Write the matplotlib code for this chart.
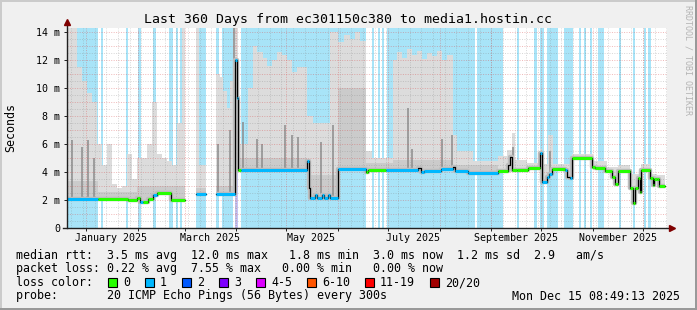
import numpy as np
import matplotlib
matplotlib.use("Agg")
import matplotlib.pyplot as plt
from matplotlib.patches import Rectangle
from datetime import datetime, timedelta

W, H = 697, 310
nan = np.nan
start = datetime(2024, 12, 20, 8, 49, 13)
span = 360.0
mono = "DejaVu Sans Mono"

# median rtt, step data: segment start (days since start), value (ms), loss class
med_day = [0, 18.6, 36.6, 42, 43.8, 45.6, 48.6, 51.6, 54, 62.4, 70.8, 77.4, 83.4, 89.4,
           100.8, 101.8, 102.6, 104.4, 144, 144.9, 145.8, 148.8, 150, 153, 154.2, 156.6,
           157.8, 162.3, 179.4, 180.6, 191.4, 210.6, 212.4, 214.2, 224.4, 231.6, 232.8,
           240.6, 258.6, 264.6, 265.8, 267, 270, 276.6, 283.8, 285, 288, 289.2, 291,
           298.8, 300, 301.8, 303.2, 315, 316.8, 322.8, 327, 328.8, 330.6, 337.8, 339.6,
           340.8, 342.6, 343.8, 344.4, 349.8, 351.6, 352.2, 354, 355.2, 358.8]
med_ms = [2.08, 2.1, 2.05, 2.2, 1.9, 1.85, 2.1, 2.4, 2.5, 2.05, nan, 2.45, nan, 2.45,
          12.0, 9.3, 4.16, 4.16, 4.8, 2.9, 2.15, 2.4, 2.15, 2.4, 2.15, 2.4,
          2.15, 4.22, 4.0, 4.15, 4.15, 4.3, 4.0, 4.1, 4.25, 4.35, 4.1,
          3.97, 4.1, 4.5, 5.1, 4.2, 4.15, 4.3, 5.4, 3.3, 3.7, 3.9, 4.25,
          4.2, 3.7, 3.57, 5.0, 4.4, 4.3, 4.1, 3.7, 3.14, 4.1, 2.86, 1.8,
          2.86, 3.57, 2.6, 4.2, 3.6, 3.1, 3.5, 3.55, 3.0, nan]
med_loss = [1, 0, 0, 0, 1, 0, 0, 1, 0, 0, -1, 1, -1, 1,
            1, 1, 0, 1, 1, -1, 1, 1, 1, 1, 1, 1,
            1, 1, 0, 0, 1, -1, 1, 1, 1, -1, 1,
            1, 0, -1, -1, 0, 0, 0, 1, 1, 1, 1, 0,
            1, -1, 1, 0, 0, 0, 0, 0, 0, 0, 0, 0,
            0, 0, 0, 0, 0, 0, 0, 0, 0, -1]

# smoke: outer (light) envelope top
light_day = [0, 6, 9, 12, 15, 18, 21, 24, 27, 30, 33, 36, 39, 42, 48, 51, 54, 57, 60, 63,
             66, 69, 70.8, 77.4, 79.2, 83.4, 89.4, 91.8, 93.6, 96, 97.8, 99.6, 102.6, 108.6,
             111.6, 114, 117.6, 120, 123, 126, 129, 132, 135, 138, 144, 147.6, 157.8,
             162.6, 166, 169.8, 173, 176, 179.4, 183, 195.6, 198, 201, 204, 207, 210, 213,
             216, 219, 222, 225, 228, 231.6,
             234, 243.6, 258.6, 264, 267, 268.8, 276, 283.8, 285, 288.6, 291.6, 303.0,
             315.6, 324, 330.6, 337.8, 344.4, 349.8, 354, 358.8]
light_top = [14.3, 11.5, 10.5, 9.7, 9.0, 6.0, 4.5, 6.0, 3.2, 2.9, 3.0, 5.3, 3.5, 5.0, 6.0,
             9.0, 5.3, 5.0, 4.8, 4.5, 7.5, 14.3, nan, 14.3, 4.5, nan, 11.0, 10.8, 9.8, 8.6,
             10.5, 14.3, 6.0, 10.0,
             13.0, 12.6, 12.2, 11.6, 12.0, 12.6, 12.4, 12.0, 11.2, 11.5, 8.0, 7.5, 14.0,
             13.3, 13.8, 13.5, 14.0, 13.4, 5.5, 5.0, 12.0, 12.6, 12.2, 12.8, 12.4, 12.7, 12.1,
             12.5, 12.3, 12.7, 12.0, 12.4, 6.7,
             5.5, 4.8, 5.2, 5.6, 6.8, 4.9, 4.7, 5.7, 4.6, 6.7, 4.6, 5.3, 4.8,
             4.4, 4.5, 3.9, 4.6, 3.9, 3.8, nan]

# smoke: inner (darker) envelope top
mid_day = [0, 18.6, 42, 70.8, 77.4, 83.4, 89.4, 99.6, 102.6, 144, 162.3, 179.4, 195.6,
           231.6, 258.6]
mid_top = [3.4, 2.6, 3.0, nan, 2.9, nan, 3.0, nan, 5.0, 3.8, 10.0, 4.7, 4.9, 4.5, nan]

# single dark smoke spikes
spike_day = [3, 9, 12.6, 16.2, 90.6, 97.8, 100.2, 105.6, 114, 117, 130.8, 135, 138.6,
             152.4, 159.6, 204.6, 207, 225, 231, 267.6, 289.8]
spike_top = [6.3, 5.8, 6.3, 5.0, 6.0, 7.0, 14.3, 7.6, 6.4, 6.0, 7.4, 6.7, 6.5, 6.2, 7.4,
             8.6, 5.7, 6.4, 6.7, 5.8, 5.5]

# packet loss bars (1/20 lost)
loss_start = [0, 20.4, 35.4, 42.6, 51.6, 61.2, 65.4, 67.8, 77.4, 89.4, 92.8, 104.2, 183,
              186.6, 189, 192, 246, 270, 280.2, 283.8, 287.7, 298.2, 307.2, 310.2, 313.8,
              318.6, 330.9, 339.6, 346.2, 348.6]
loss_end = [18.6, 21.6, 36.6, 44.4, 53.4, 63.6, 66.6, 69, 83.4, 91.2, 99.6, 179.4, 183.9,
            187.8, 190.2, 244.8, 261.6, 271.2, 281.7, 285.9, 294.6, 303.6, 308.4, 311.4,
            315, 322.2, 332.4, 340.5, 347.4, 350.4]
loss2_start = [100.8]
loss2_end = [102.6]

loss_labels = ["0", "1", "2", "3", "4-5", "6-10", "11-19", "20/20"]
loss_colors = ["#26ff00", "#00b8ff", "#0059ff", "#7e00ff", "#dd00ff", "#ff5500",
               "#ff0000", "#a10000"]

title = "Last 360 Days from ec301150c380 to media1.hostin.cc"
line1 = "median rtt:  3.5 ms avg  12.0 ms max   1.8 ms min  3.0 ms now  1.2 ms sd  2.9   am/s"
line2 = "packet loss: 0.22 % avg  7.55 % max   0.00 % min   0.00 % now"
line4 = "probe:       20 ICMP Echo Pings (56 Bytes) every 300s"
stamp = "Mon Dec 15 08:49:13 2025"


def dday(d):
    return (d - start).total_seconds() / 86400.0


def step_at(edges, vals, xs):
    idx = np.searchsorted(edges, xs, side="right") - 1
    out = np.asarray(vals, float)[np.clip(idx, 0, None)]
    out[idx < 0] = nan
    return out


edges = np.array(sorted(set(med_day + light_day + mid_day + [span])))
seg = edges[:-1]
X = np.repeat(edges, 2)[1:-1]
Vmed = np.repeat(step_at(med_day, med_ms, seg), 2)
Vlight = np.repeat(step_at(light_day, light_top, seg), 2)
Vmid = np.repeat(step_at(mid_day, mid_top, seg), 2)

fig = plt.figure(figsize=(W / 100, H / 100), dpi=100, facecolor="#f0f0f0")
ax = fig.add_axes([67 / W, 1 - 228.3 / H, 600 / W, 200.3 / H])
ax.set_facecolor("white")
ax.set_xlim(0, span)
ax.set_ylim(0, 14.31)
for s in ax.spines.values():
    s.set_visible(False)

# loss bars
for a, b in zip(loss_start, loss_end):
    ax.axvspan(a, b, color="#a8e4f8", lw=0, zorder=1)
for a, b in zip(loss2_start, loss2_end):
    ax.axvspan(a, b, color="#c4c6f6", lw=0, zorder=1)

# smoke
ax.fill_between(X, Vmed, Vlight, color="#dcdcdc", lw=0, zorder=2)
ax.fill_between(X, Vmed, Vmid, color="#cbcbcb", lw=0, zorder=2.1)
spike_base = step_at(med_day, med_ms, np.array(spike_day))
ax.vlines(spike_day, spike_base, spike_top, color="#8c8c8c", lw=1.1, zorder=2.2)

# grid
major_c = (0.85, 0.3, 0.3, 0.4)
minor_c = (0.5, 0.5, 0.5, 0.32)
for i in range(1, 29):
    y = i * 0.5
    ax.axhline(y, color=major_c if i % 2 == 0 else minor_c, lw=0.7,
               ls=(0, (1, 1.5)), zorder=3)
monday = dday(datetime(2024, 12, 23))
while monday < span:
    ax.axvline(monday, color=minor_c, lw=0.7, ls=(0, (1, 1.5)), zorder=3)
    monday += 7
month_days = [dday(datetime(2025, m, 1)) for m in range(1, 13)]
for d in month_days:
    ax.axvline(d, color=major_c, lw=0.7, ls=(0, (1, 1.5)), zorder=3)

# median line coloured by loss
ax.plot(X, Vmed, color="#bdbdbd", lw=3.2, zorder=3.5, solid_capstyle="butt")
ax.plot(X, Vmed, color="black", lw=0.9, zorder=4)
for i in range(len(med_day) - 1):
    if med_loss[i] < 0 or np.isnan(med_ms[i]):
        continue
    ax.hlines(med_ms[i], med_day[i], med_day[i + 1], color=loss_colors[med_loss[i]],
              lw=2.2, zorder=4.5)

# axes with arrows
axis_c = "#202020"
ax.plot([-2.4, 361.5], [0, 0], color=axis_c, lw=1, clip_on=False, zorder=6)
ax.plot([0, 0], [0, 14.6], color=axis_c, lw=1, clip_on=False, zorder=6)
ax.plot([363], [0], marker=">", ms=4.5, color="#7f0000", clip_on=False, zorder=7)
ax.plot([0], [14.75], marker="^", ms=4.5, color="#7f0000", clip_on=False, zorder=7)

# ticks
ax.set_yticks(range(0, 15, 2))
ax.set_yticklabels(["0"] + ["%d m" % v for v in range(2, 15, 2)])
ax.tick_params(axis="y", length=2.5, width=0.7, color=axis_c, pad=2.5,
               labelsize=7.2)
label_months = [1, 3, 5, 7, 9, 11]
ax.set_xticks([dday(datetime(2025, m, 1) + timedelta(days=15)) for m in label_months])
ax.set_xticklabels([datetime(2025, m, 1).strftime("%B %Y") for m in label_months])
ax.tick_params(axis="x", length=0, pad=3.5, labelsize=7.2)
ax.set_xticks(month_days, minor=True)
ax.tick_params(axis="x", which="minor", length=2, width=0.7, color=axis_c)
for lab in ax.get_xticklabels() + ax.get_yticklabels():
    lab.set_family(mono)

# texts
fig.text(0.5, 1 - 19 / H, title, ha="center", va="center", fontsize=9.55, family=mono)
fig.text(11 / W, 1 - 127 / H, "Seconds", rotation=90, ha="center", va="center",
         fontsize=8.4, family=mono)
fig.text(688 / W, 1 - 60 / H, "RRDTOOL / TOBI OETIKER", rotation=270, ha="center",
         va="center", fontsize=6, family=mono, color="#b4b4b4")
fig.text(16 / W, 1 - 255 / H, line1, va="center", fontsize=8.4, family=mono)
fig.text(16 / W, 1 - 268.5 / H, line2, va="center", fontsize=8.4, family=mono)
fig.text(16 / W, 1 - 282.5 / H, "loss color:", va="center", fontsize=8.4, family=mono)
fig.text(16 / W, 1 - 296 / H, line4, va="center", fontsize=8.4, family=mono)
fig.text(680 / W, 1 - 296 / H, stamp, va="center", ha="right", fontsize=8.4, family=mono)

x = 108
for lab, c in zip(loss_labels, loss_colors):
    fig.add_artist(Rectangle((x / W, 1 - 287 / H), 9 / W, 9 / H, transform=fig.transFigure,
                             facecolor=c, edgecolor="black", lw=0.8))
    fig.text((x + 15) / W, 1 - 282.5 / H, lab, va="center", fontsize=8.4, family=mono)
    x += 30 + 7 * len(lab)

# frame
fig.add_artist(Rectangle((0, 0), 2 / W, 1, transform=fig.transFigure, color="#cbcbcb", lw=0))
fig.add_artist(Rectangle((0, 1 - 2 / H), 1, 2 / H, transform=fig.transFigure, color="#cbcbcb", lw=0))
fig.add_artist(Rectangle((1 - 2 / W, 0), 2 / W, 1, transform=fig.transFigure, color="#999999", lw=0))
fig.add_artist(Rectangle((0, 0), 1, 2 / H, transform=fig.transFigure, color="#999999", lw=0))

fig.savefig("out.png", dpi=100, facecolor=fig.get_facecolor())
